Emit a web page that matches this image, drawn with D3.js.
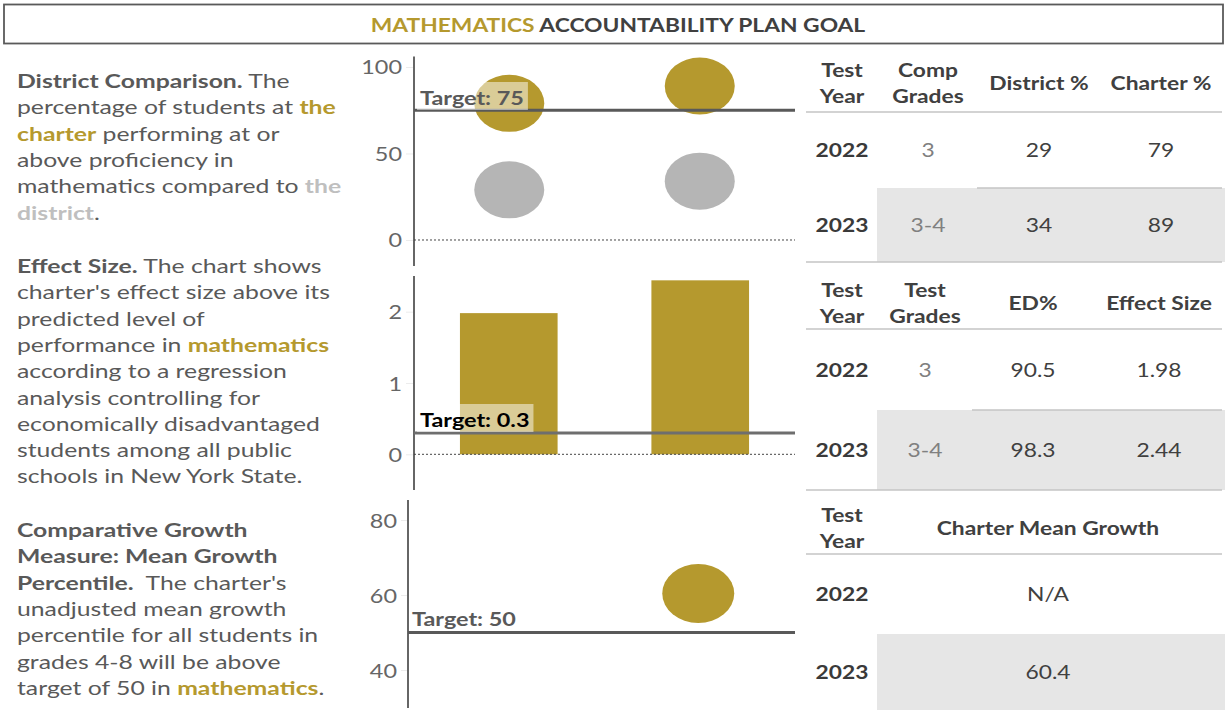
<!DOCTYPE html>
<html><head><meta charset="utf-8">
<script src="https://cdn.jsdelivr.net/npm/d3@7"></script>
<style>
body{margin:0;background:#fff}
svg{display:block;font-family:Lato,"Open Sans",sans-serif}
</style>
</head><body>
<svg id="c" width="1225" height="710"></svg>
<script>
// ---- data ----
const years = ["2022", "2023"];
const compGrades = ["3", "3-4"];
const districtPct = [29, 34];
const charterPct = [79, 89];
const testGrades = ["3", "3-4"];
const edPct = [90.5, 98.3];
const effectSize = [1.98, 2.44];
const meanGrowth = [null, 60.4];
const proficiencyTarget = 75;
const effectTarget = 0.3;
const growthTarget = 50;
const proficiencyTicks = [0, 50, 100];
const effectTicks = [0, 1, 2];
const growthTicks = [40, 60, 80];

// ---- style ----
const GOLD = "#B5992E", DGRAY = "#B5B5B5", TXT = "#595959", DARK = "#3a3a3a";
const SX = 1.2;   // horizontal text stretch
const SXP = 1.27; // stretch for the description paragraphs

const svg = d3.select("#c");

// place a text element with a horizontal stretch
function place(sel, x, y, sx) {
  return sel.attr("transform", `translate(${x},${y}) scale(${sx || SX},1)`);
}
function richText(parent, x, y, segs, size, anchor, sx) {
  const t = place(parent.append("text"), x, y, sx)
    .attr("font-size", size).attr("text-anchor", anchor || "start");
  segs.forEach(([s, st]) => {
    const ts = t.append("tspan").text(s);
    if (st === "b") ts.attr("font-weight", 700).attr("fill", TXT);
    else if (st === "gold") ts.attr("font-weight", 700).attr("fill", GOLD);
    else if (st === "light") ts.attr("font-weight", 700).attr("fill", "#BFBFBF");
    else if (st === "title") ts.attr("font-weight", 700).attr("fill", "#404040");
    else ts.attr("fill", TXT);
  });
  t.style("white-space", "pre");
  return t;
}

// ---- title ----
svg.append("rect").attr("x", 4).attr("y", 4.5).attr("width", 1219).attr("height", 39)
  .attr("fill", "#fff").attr("stroke", "#5a5a5a").attr("stroke-width", 1.8);
richText(svg, 618, 32, [["MATHEMATICS", "gold"], [" ACCOUNTABILITY PLAN GOAL", "title"]], 19, "middle");

// ---- description paragraphs ----
const paragraphs = [
  { y: 88, lines: [
    [["District Comparison.", "b"], [" The", "n"]],
    [["percentage of students at ", "n"], ["the", "gold"]],
    [["charter", "gold"], [" performing at or", "n"]],
    [["above proficiency in", "n"]],
    [["mathematics compared to ", "n"], ["the", "light"]],
    [["district", "light"], [".", "n"]]
  ]},
  { y: 273, lines: [
    [["Effect Size.", "b"], [" The chart shows", "n"]],
    [["charter's effect size above its", "n"]],
    [["predicted level of", "n"]],
    [["performance in ", "n"], ["mathematics", "gold"]],
    [["according to a regression", "n"]],
    [["analysis controlling for", "n"]],
    [["economically disadvantaged", "n"]],
    [["students among all public", "n"]],
    [["schools in New York State.", "n"]]
  ]},
  { y: 537, lines: [
    [["Comparative Growth", "b"]],
    [["Measure: Mean Growth", "b"]],
    [["Percentile.", "b"], ["  The charter's", "n"]],
    [["unadjusted mean growth", "n"]],
    [["percentile for all students in", "n"]],
    [["grades 4-8 will be above", "n"]],
    [["target of 50 in ", "n"], ["mathematics", "gold"], [".", "n"]]
  ]}
];
paragraphs.forEach(p => p.lines.forEach((segs, i) =>
  richText(svg, 17, p.y + i * 26.3, segs, 19.5, "start", SXP)));

// ---- chart helpers ----
function yAxis(y, ticks, axisX, labelRight, top, bottom) {
  const g = svg.append("g").attr("transform", `translate(${axisX},0)`)
    .call(d3.axisLeft(y).tickValues(ticks).tickFormat(d3.format("d"))
      .tickSize(axisX - labelRight - 4).tickPadding(4));
  g.select(".domain").remove();
  g.selectAll(".tick line").attr("stroke", "#ececec");
  g.selectAll(".tick text")
    .attr("x", null).attr("dy", null)
    .attr("transform", `translate(${labelRight - axisX},7) scale(${SX},1)`)
    .attr("fill", "#666").attr("font-size", 19.5).attr("font-family", "Lato");
  svg.append("line").attr("x1", axisX).attr("x2", axisX).attr("y1", top).attr("y2", bottom)
    .attr("stroke", "#666").attr("stroke-width", 2);
}
function zeroLine(y, x0, x1) {
  svg.append("line").attr("x1", x0).attr("x2", x1).attr("y1", y(0)).attr("y2", y(0))
    .attr("stroke", "#444").attr("stroke-width", 1).attr("stroke-dasharray", "2,2");
}
function targetLine(y, v, x0, x1, color) {
  svg.append("line").attr("x1", x0).attr("x2", x1).attr("y1", y(v)).attr("y2", y(v))
    .attr("stroke", color).attr("stroke-width", 3);
}
function targetLabel(x, yBase, text, color, boxed) {
  const g = svg.append("g");
  const t = richText(g, x + 3, yBase, [[text, "b"]], 19.5);
  t.selectAll("tspan").attr("fill", color);
  if (boxed) {
    const bb = t.node().getBBox();
    const w = bb.width * SX;
    g.insert("rect", "text").attr("x", x).attr("y", yBase - 23)
      .attr("width", w + 7).attr("height", 28)
      .attr("fill", "#fff").attr("fill-opacity", 0.5);
  }
}

// ---- chart 1: district comparison ----
const x1 = d3.scalePoint().domain(years).range([414, 795]).padding(0.5);
const y1 = d3.scaleLinear().domain([-15, 106]).range([265.95, 56.6]);
yAxis(y1, proficiencyTicks, 414, 402, y1(106), y1(-15));
zeroLine(y1, 414, 795);
svg.append("g").selectAll("ellipse").data(years).join("ellipse")
  .attr("cx", d => x1(d)).attr("cy", (d, i) => y1(districtPct[i]))
  .attr("rx", 35).attr("ry", 28.5).attr("fill", DGRAY);
svg.append("g").selectAll("ellipse").data(years).join("ellipse")
  .attr("cx", d => x1(d)).attr("cy", (d, i) => y1(charterPct[i]))
  .attr("rx", 35).attr("ry", 28.5).attr("fill", GOLD);
targetLine(y1, proficiencyTarget, 414, 795, "#595959");
targetLabel(417, 105, "Target: " + proficiencyTarget, TXT, true);

// ---- chart 2: effect size ----
const x2 = d3.scaleBand().domain(years).range([414, 795]).paddingInner(0.49).paddingOuter(0.24);
const y2 = d3.scaleLinear().domain([-0.5, 2.5]).range([489.95, 276.05]);
yAxis(y2, effectTicks, 414, 402, y2(2.5), y2(-0.5));
svg.append("g").selectAll("rect").data(years).join("rect")
  .attr("x", d => x2(d)).attr("width", x2.bandwidth())
  .attr("y", (d, i) => y2(effectSize[i])).attr("height", (d, i) => y2(0) - y2(effectSize[i]))
  .attr("fill", GOLD);
zeroLine(y2, 414, 795);
targetLine(y2, effectTarget, 414, 795, "#6e6e6e");
targetLabel(417, 427, "Target: " + effectTarget, "#000", true);

// ---- chart 3: mean growth percentile ----
const x3 = d3.scalePoint().domain(years).range([408, 795]).padding(0.5);
const y3 = d3.scaleLinear().domain([30, 85]).range([707.5, 501.25]);
yAxis(y3, growthTicks, 408, 397, 500, 708);
targetLine(y3, growthTarget, 408, 795, "#595959");
targetLabel(409, 626, "Target: " + growthTarget, TXT, false);
svg.append("g").selectAll("ellipse").data(years.filter((d, i) => meanGrowth[i] != null)).join("ellipse")
  .attr("cx", d => x3(d)).attr("cy", d => y3(meanGrowth[years.indexOf(d)]))
  .attr("rx", 36).attr("ry", 29.5).attr("fill", GOLD);

// ---- tables ----
function hline(x0, x1, y) {
  svg.append("line").attr("x1", x0).attr("x2", x1).attr("y1", y).attr("y2", y)
    .attr("stroke", "#c4c4c4").attr("stroke-width", 1.5);
}
function cell(x, y, text, weight, color) {
  place(svg.append("text"), x, y).attr("text-anchor", "middle")
    .attr("font-size", 19).attr("font-weight", weight).attr("fill", color).text(text);
}
function header(x, y, lines) {
  lines.forEach((l, i) => cell(x, y + i * 26, l, 700, "#404040"));
}
function table(top, headerBottom, shadeTop, bottom, sepX, cols, headers, rows) {
  svg.append("rect").attr("x", 877).attr("y", shadeTop).attr("width", 348)
    .attr("height", bottom - shadeTop).attr("fill", "#E6E6E6");
  hline(806, 1222, headerBottom);
  if (sepX) hline(sepX, 1222, shadeTop);
  if (bottom < 705) hline(806, 1222, bottom);
  headers.forEach((h, j) => header(cols[j], h.length === 2 ? top + 25 : top + 38, h));
  const r1 = (headerBottom + shadeTop) / 2, r2 = (shadeTop + bottom) / 2;
  rows.forEach((row, j) => {
    [r1, r2].forEach((ry, i) => {
      const v = row.values[i];
      cell(cols[j], ry + 7, v, row.weight, row.color);
    });
  });
}

table(52, 112, 188, 262, 977, [842, 928, 1039, 1161],
  [["Test", "Year"], ["Comp", "Grades"], ["District %"], ["Charter %"]],
  [
    { values: years, weight: 700, color: DARK },
    { values: compGrades, weight: 400, color: "#808080" },
    { values: districtPct.map(String), weight: 400, color: "#404040" },
    { values: charterPct.map(String), weight: 400, color: "#404040" }
  ]);

table(272, 329, 410, 490, 972, [842, 925, 1033, 1159],
  [["Test", "Year"], ["Test", "Grades"], ["ED%"], ["Effect Size"]],
  [
    { values: years, weight: 700, color: DARK },
    { values: testGrades, weight: 400, color: "#808080" },
    { values: edPct.map(v => v.toFixed(1)), weight: 400, color: "#404040" },
    { values: effectSize.map(v => v.toFixed(2)), weight: 400, color: "#404040" }
  ]);

table(497, 554, 634, 710, null, [842, 1048],
  [["Test", "Year"], ["Charter Mean Growth"]],
  [
    { values: years, weight: 700, color: DARK },
    { values: meanGrowth.map(v => v == null ? "N/A" : v.toFixed(1)), weight: 400, color: "#404040" }
  ]);
</script>
</body></html>
